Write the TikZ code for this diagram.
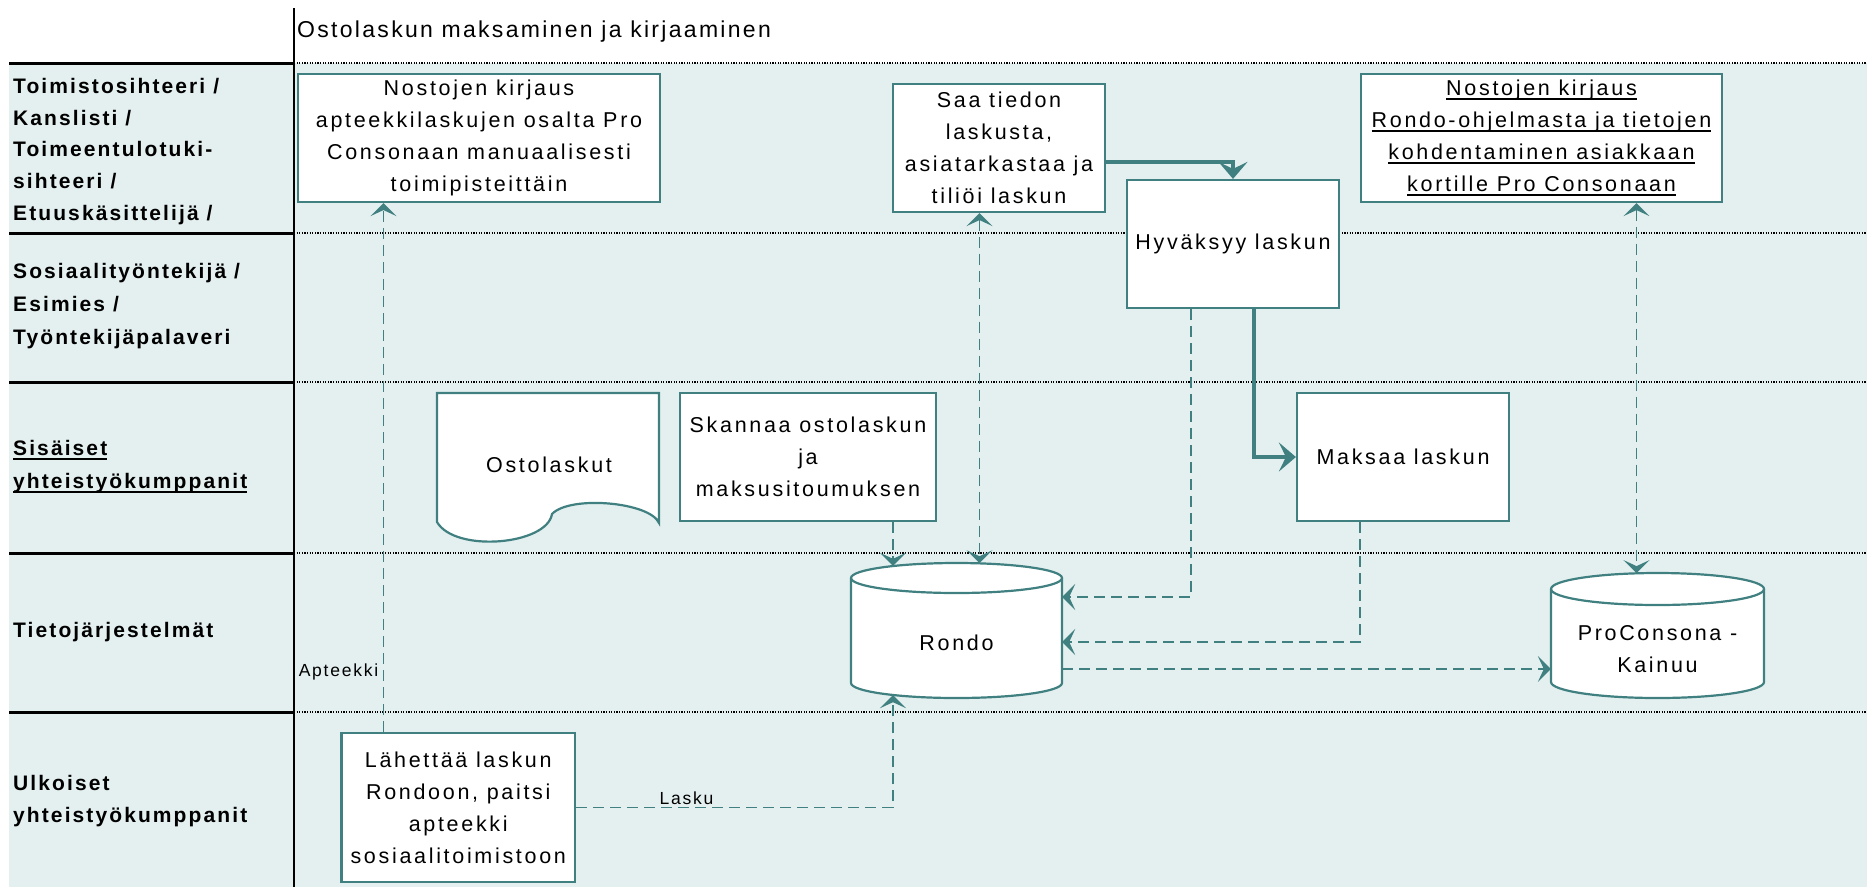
\documentclass[tikz,border=0pt]{standalone}
\usepackage{fontspec}
\setmainfont[LetterSpace=10]{Liberation Sans}
\newfontfamily\boxfam[LetterSpace=12.5]{Liberation Sans}
\usetikzlibrary{arrows.meta,calc}
\definecolor{lineteal}{RGB}{64,128,128}
\definecolor{lanebg}{RGB}{228,240,240}
\newcommand\myul[1]{\setbox0=\hbox{#1}\rlap{\rule[-4.5pt]{\wd0}{1.8pt}}\box0}
\newcommand\boxfont{\boxfam\fontsize{21.5}{32}\selectfont}
\newcommand\lanefont{\fontsize{21}{31.7}\selectfont\bfseries}
\begin{document}
\begin{tikzpicture}[x=1pt,y=-1pt,
  box/.style={draw=lineteal,line width=2.2pt,fill=white,inner sep=0pt,align=center,font=\boxfont},
  lanelabel/.style={anchor=west,align=left,inner sep=0pt,font=\lanefont},
  dotline/.style={draw=black,line width=1.6pt,dash pattern=on 1.2pt off 1.4pt},
  sepline/.style={draw=black,line width=3pt},
  dashconn/.style={draw=lineteal,line width=1.5pt,dash pattern=on 11pt off 6pt},
  thickconn/.style={draw=lineteal,line width=4pt},
  mybarb/.tip={Stealth[length=13pt,width=26pt,inset=6pt]},
  mybig/.tip={Stealth[length=17pt,width=29pt,inset=7pt]},
  cylshape/.style={draw=lineteal,line width=2.2pt,fill=white},
  cylnode/.style={inner sep=0pt},
  smalllabel/.style={inner sep=0pt,font=\fontsize{17.5}{20}\selectfont}
]
\useasboundingbox (0,0) rectangle (1867,887);
% lanes
\fill[lanebg] (9,63) rectangle (1867,887);
\foreach \yy in {63,233,382,553,712}{
  \draw[sepline] (9,\yy) -- (294,\yy);
  \draw[dotline] (294,\yy) -- (1867,\yy);
}
\draw[line width=2pt] (294,8) -- (294,887);

\node[anchor=west,inner sep=0pt,font=\fontsize{23}{28}\selectfont] (title) at (297,32) {Ostolaskun maksaminen ja kirjaaminen};

\node[lanelabel] (l1) at (13,151.5) {Toimistosihteeri /\\Kanslisti /\\Toimeentulotuki-\\sihteeri /\\Etuuskäsittelijä /};
\node[lanelabel,font=\fontsize{21}{33}\selectfont\bfseries] (l2) at (13,306) {Sosiaalityöntekijä /\\Esimies /\\Työntekijäpalaveri};
\node[lanelabel,font=\fontsize{21}{33}\selectfont\bfseries] (l3) at (13,466.5) {\myul{Sisäiset}\\\myul{yhteistyökumppanit}};
\node[lanelabel] (l4) at (13,632) {Tietojärjestelmät};
\node[lanelabel] (l5) at (13,801) {Ulkoiset\\yhteistyökumppanit};

% cylinders
\path[cylshape] (851,578) -- (851,683) arc[start angle=180,end angle=360,x radius=105.5pt,y radius=15pt]
  -- (1062,578) arc[start angle=0,end angle=180,x radius=105.5pt,y radius=15pt] -- cycle;
\draw[draw=lineteal,line width=2.2pt] (851,578) arc[start angle=180,end angle=360,x radius=105.5pt,y radius=15pt];
\node[cylnode,minimum width=211pt,minimum height=135pt,
  label={[font=\boxfont,yshift=-12.5pt]center:Rondo}] (rondo) at (956.5,630.5) {};

\path[cylshape] (1551,589) -- (1551,682) arc[start angle=180,end angle=360,x radius=106.5pt,y radius=16pt]
  -- (1764,589) arc[start angle=0,end angle=180,x radius=106.5pt,y radius=16pt] -- cycle;
\draw[draw=lineteal,line width=2.2pt] (1551,589) arc[start angle=180,end angle=360,x radius=106.5pt,y radius=16pt];
\node[cylnode,minimum width=213pt,minimum height=125pt,
  label={[font=\boxfont,align=center,yshift=-13.5pt]center:{ProConsona -\\Kainuu}}] (pc) at (1657.5,635.5) {};

% document shape
\path[cylshape] (437,393) -- (659,393) -- (659,523)
  .. controls (650,502) and (570,495) .. (552,514)
  .. controls (547,545) and (455,553) .. (437,522) -- cycle;
\node[inner sep=0pt,font=\boxfont] (doc) at (549,465) {Ostolaskut};

% boxes
\node[box,minimum width=362pt,minimum height=128pt] (b1) at (479,138)
  {Nostojen kirjaus\\apteekkilaskujen osalta Pro\\Consonaan manuaalisesti\\toimipisteittäin};
\node[box,minimum width=212pt,minimum height=128pt] (b2) at (999,148)
  {Saa tiedon\\laskusta,\\asiatarkastaa ja\\tiliöi laskun};
\node[box,minimum width=212pt,minimum height=128pt] (b3) at (1233,244) {Hyväksyy laskun};
\node[box,minimum width=361pt,minimum height=128pt] (b4) at (1541.5,138)
  {\myul{Nostojen kirjaus}\\\myul{Rondo-ohjelmasta ja tietojen}\\\myul{kohdentaminen asiakkaan}\\\myul{kortille Pro Consonaan}};
\node[box,minimum width=256pt,minimum height=128pt] (b6) at (808,457)
  {Skannaa ostolaskun\\ja\\maksusitoumuksen};
\node[box,minimum width=212pt,minimum height=128pt] (b7) at (1403,457) {Maksaa laskun};
\node[box,minimum width=233.5pt,minimum height=149pt] (b8) at (458.25,807.5)
  {Lähettää laskun\\Rondoon, paitsi\\apteekki\\sosiaalitoimistoon};

% connectors
\draw[dashconn,-mybarb] ($(b8.north)+(-74.75,0)$) -- ($(b1.south)+(-95.5,0)$);
\node[smalllabel] (lapt) at (338.5,672) {Apteekki};
\draw[dashconn,-mybarb] (b8.east) -| ($(rondo.south)+(-63.5,-3)$);
\node[smalllabel] (llasku) at (686.5,798) {Lasku};
\draw[dashconn,-mybarb] ($(b6.south)+(85,0)$) -- ($(rondo.north)+(-63.5,3)$);
\draw[dashconn,mybarb-mybarb] ($(b2.south)+(-19.5,0)$) -- ($(rondo.north)+(23,0.4)$);
\draw[dashconn,mybarb-mybarb] ($(b4.south)+(95,0)$) -- ($(pc.north)+(-21,0.3)$);
\draw[thickconn,-mybig] ($(b2.east)+(0,14)$) -| (b3.north);
\draw[thickconn,-mybig] ($(b3.south)+(21,0)$) |- (b7.west);
\draw[dashconn,-mybarb] ($(b3.south)+(-42,0)$) |- ($(rondo.east)+(0,-33.5)$);
\draw[dashconn,-mybarb] ($(b7.south)+(-43,0)$) |- ($(rondo.east)+(0,11.5)$);
\draw[dashconn,-mybarb] ($(rondo.east)+(0,38.5)$) -- ($(pc.west)+(0,33.5)$);
\end{tikzpicture}
\end{document}
